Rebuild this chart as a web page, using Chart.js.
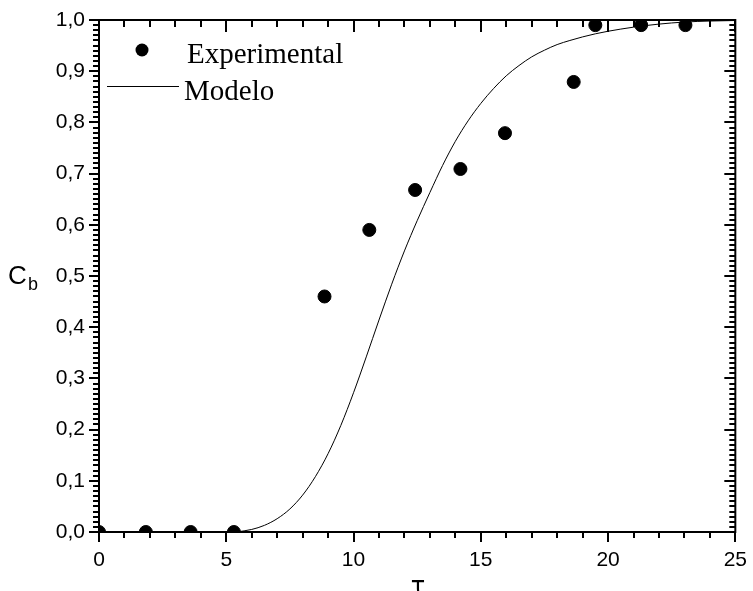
<!DOCTYPE html>
<html>
<head>
<meta charset="utf-8">
<script src="https://cdn.jsdelivr.net/npm/chart.js@4/dist/chart.umd.min.js"></script>
<style>
  html, body { margin: 0; padding: 0; background: #fff; }
  #wrap { width: 753px; height: 591px; }
</style>
</head>
<body>
<div id="wrap"><canvas id="chart"></canvas></div>
<script>
// experimental points
const expTau = [0, 1.84, 3.6, 5.3, 8.86, 10.62, 12.42, 14.2, 15.95, 18.65, 19.5, 21.3, 23.04];
const expCb = [0, 0, 0, 0, 0.46, 0.59, 0.668, 0.709, 0.779, 0.879, 0.99, 0.99, 0.99];

// model curve
const modelTau = [5.4, 6, 6.5, 7, 7.5, 8, 8.5, 9, 9.5, 10, 10.5, 11, 11.5, 12, 12.5, 13, 13.5,
    14, 14.5, 15, 15.5, 16, 16.5, 17, 17.5, 18, 18.5, 19, 19.5, 20, 21, 22, 23, 24, 25];
const modelCb = [0, 0.005, 0.013, 0.026, 0.045, 0.072, 0.108, 0.153, 0.208, 0.272, 0.342, 0.414,
    0.484, 0.549, 0.608, 0.663, 0.716, 0.763, 0.803, 0.837, 0.866, 0.891, 0.911, 0.928, 0.941,
    0.952, 0.96, 0.967, 0.973, 0.978, 0.986, 0.992, 0.996, 0.998, 0.999];

const xTicks = [0, 5, 10, 15, 20, 25];
const yTicks = [0, 0.1, 0.2, 0.3, 0.4, 0.5, 0.6, 0.7, 0.8, 0.9, 1.0];

const toPoints = (xs, ys) => xs.map((x, i) => ({ x: x, y: ys[i] }));

// frame, minor ticks, inner ticks on top/right, legend and axis titles
const decorPlugin = {
    id: 'decor',
    afterDraw(chart) {
        const ctx = chart.ctx;
        const xs = chart.scales.x, ys = chart.scales.y;
        const a = chart.chartArea;
        ctx.save();
        ctx.strokeStyle = '#000';
        ctx.lineWidth = 2;
        ctx.strokeRect(a.left, a.top, a.right - a.left, a.bottom - a.top);

        ctx.beginPath();
        // x minor ticks (every 1), bottom outward, top inward
        for (let v = 0; v <= 25; v++) {
            const px = Math.round(xs.getPixelForValue(v));
            const major = v % 5 === 0;
            if (!major) {
                ctx.moveTo(px, a.bottom);
                ctx.lineTo(px, a.bottom + 6);
            }
            ctx.moveTo(px, a.top);
            ctx.lineTo(px, a.top + (major ? 12 : 7));
        }
        // y minor ticks (every 0.01), left outward, right inward
        for (let k = 0; k <= 100; k++) {
            const py = Math.round(ys.getPixelForValue(k / 100));
            const major = k % 10 === 0;
            if (!major) {
                ctx.moveTo(a.left, py);
                ctx.lineTo(a.left - 6, py);
            }
            ctx.moveTo(a.right, py);
            ctx.lineTo(a.right - (major ? 11 : 6), py);
        }
        ctx.stroke();

        // legend
        ctx.fillStyle = '#000';
        ctx.beginPath();
        ctx.arc(142, 50, 6.5, 0, Math.PI * 2);
        ctx.fill();
        ctx.lineWidth = 1;
        ctx.beginPath();
        ctx.moveTo(107, 86.5);
        ctx.lineTo(179, 86.5);
        ctx.stroke();
        ctx.font = '29px "Liberation Serif", serif';
        ctx.textBaseline = 'alphabetic';
        ctx.textAlign = 'left';
        ctx.fillText('Experimental', 187, 63);
        ctx.fillText('Modelo', 184, 100);

        // axis titles
        ctx.font = '26px "Liberation Sans", sans-serif';
        ctx.fillText('C', 8, 284);
        ctx.font = '18px "Liberation Sans", sans-serif';
        ctx.fillText('b', 28, 290);
        ctx.font = '24px "DejaVu Sans", sans-serif';
        ctx.textAlign = 'center';
        ctx.fillText('τ', 418, 594);
        ctx.restore();
    }
};

new Chart(document.getElementById('chart'), {
    type: 'scatter',
    data: {
        datasets: [
            {
                label: 'Modelo',
                type: 'line',
                data: toPoints(modelTau, modelCb),
                borderColor: '#000',
                borderWidth: 1,
                pointRadius: 0,
                cubicInterpolationMode: 'monotone',
                fill: false
            },
            {
                label: 'Experimental',
                data: toPoints(expTau, expCb),
                backgroundColor: '#000',
                borderColor: '#000',
                pointRadius: 6.5,
                pointHoverRadius: 6.5
            }
        ]
    },
    options: {
        responsive: true,
        maintainAspectRatio: false,
        animation: false,
        events: [],
        layout: { padding: { top: 20, right: 16, left: 0, bottom: 0 } },
        plugins: {
            legend: { display: false },
            tooltip: { enabled: false }
        },
        scales: {
            x: {
                type: 'linear',
                min: 0,
                max: 25,
                afterBuildTicks: s => { s.ticks = xTicks.map(v => ({ value: v })); },
                afterFit: s => { s.height = 59; },
                border: { display: false },
                grid: { drawOnChartArea: false, drawTicks: true, tickLength: 10, color: '#000', lineWidth: 2 },
                ticks: {
                    color: '#000',
                    padding: 6,
                    maxRotation: 0,
                    font: { family: '"Liberation Sans", sans-serif', size: 21 }
                }
            },
            y: {
                min: 0,
                max: 1,
                afterBuildTicks: s => { s.ticks = yTicks.map(v => ({ value: v })); },
                afterFit: s => { s.width = 99; },
                border: { display: false },
                grid: { drawOnChartArea: false, drawTicks: true, tickLength: 10, color: '#000', lineWidth: 2 },
                ticks: {
                    color: '#000',
                    padding: 4,
                    font: { family: '"Liberation Sans", sans-serif', size: 21 },
                    callback: v => v.toFixed(1).replace('.', ',')
                }
            }
        }
    },
    plugins: [decorPlugin]
});
</script>
</body>
</html>
